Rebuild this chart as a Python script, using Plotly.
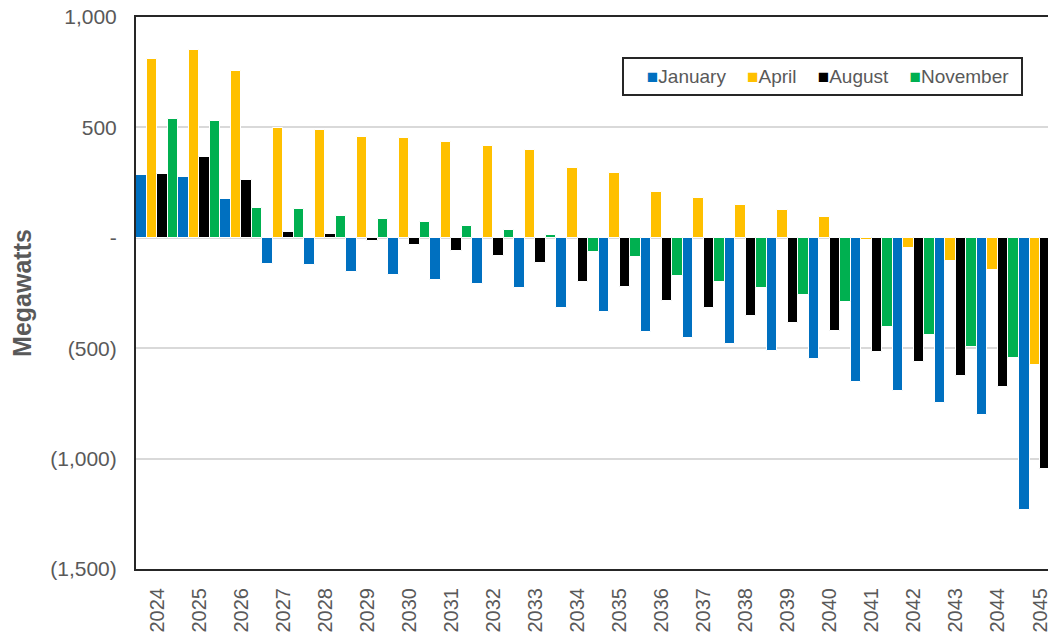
import plotly.graph_objects as go

# Data (Megawatts)
years = [str(y) for y in range(2024, 2046)]

january = [283, 274, 177, -118, -124, -157, -168, -190, -208, -227, -316,
           -337, -426, -453, -482, -511, -547, -652, -693, -750, -802, -1232]
april = [811, 851, 756, 498, 489, 458, 450, 433, 417, 398, 314,
         294, 206, 180, 150, 124, 94, -9, -45, -103, -146, -575]
august = [288, 367, 264, 27, 18, -16, -32, -59, -83, -113, -199,
          -222, -287, -319, -353, -388, -421, -518, -562, -625, -675, -1045]
november = [538, 529, 136, 129, 97, 83, 70, 53, 36, 12, -65,
            -86, -175, -199, -228, -260, -293, -402, -442, -495, -545, -975]

y_ticks = [1000, 500, 0, -500, -1000, -1500]
y_tick_labels = ['1,000', '500', '-', '(500)', '(1,000)', '(1,500)']

series = [('January', january, '#0070C0'),
          ('April', april, '#FFC000'),
          ('August', august, '#000000'),
          ('November', november, '#00B050')]

fig = go.Figure()
for name, vals, col in series:
    fig.add_trace(go.Bar(x=years, y=vals, name=name, showlegend=False,
                         marker=dict(color=col, line=dict(color='white', width=1))))

# legend drawn as one boxed annotation (tight symbol/text spacing like the original)
sp = '&nbsp;' * 4
legend_txt = sp.join('<span style="color:%s">■</span>%s' % (c, n) for n, _, c in series)
fig.add_annotation(
    text='&nbsp;&nbsp;&nbsp;' + legend_txt + '&nbsp;',
    xref='paper', yref='paper', x=0.528, y=0.9275, xanchor='left', yanchor='top',
    showarrow=False, font=dict(size=19, color='#595959'),
    bordercolor='#262626', borderwidth=2, borderpad=7, bgcolor='white',
)

# page body has an 8px margin, so the figure is a bit smaller than the window
fig.update_layout(
    width=1048, height=624,
    margin=dict(l=128, r=0, t=9, b=63),
    paper_bgcolor='white', plot_bgcolor='white',
    barmode='group', bargap=0, bargroupgap=0,
    font=dict(family='Liberation Sans, Arial, sans-serif', color='#595959'),
)

fig.update_xaxes(
    type='category', range=[-0.5, 21.38], automargin=False,
    tickangle=-90, tickfont=dict(size=20, color='#595959'),
    showline=True, linecolor='#262626', linewidth=2, mirror=True,
    showgrid=False, ticks='', ticklabelstandoff=9, ticklabeloverflow='allow',
)

fig.update_yaxes(
    range=[-1500, 1000], tickvals=y_ticks, ticktext=y_tick_labels, automargin=False,
    tickfont=dict(size=21, color='#595959'),
    showgrid=True, gridcolor='#D9D9D9', gridwidth=1.5,
    zeroline=True, zerolinecolor='#D9D9D9', zerolinewidth=2,
    showline=True, linecolor='#262626', linewidth=2,
    ticks='', ticklabelstandoff=13, ticklabeloverflow='allow',
    title=dict(text='<b>Megawatts</b>', font=dict(size=25, color='#595959'), standoff=12),
)

fig.write_html("out.html")
